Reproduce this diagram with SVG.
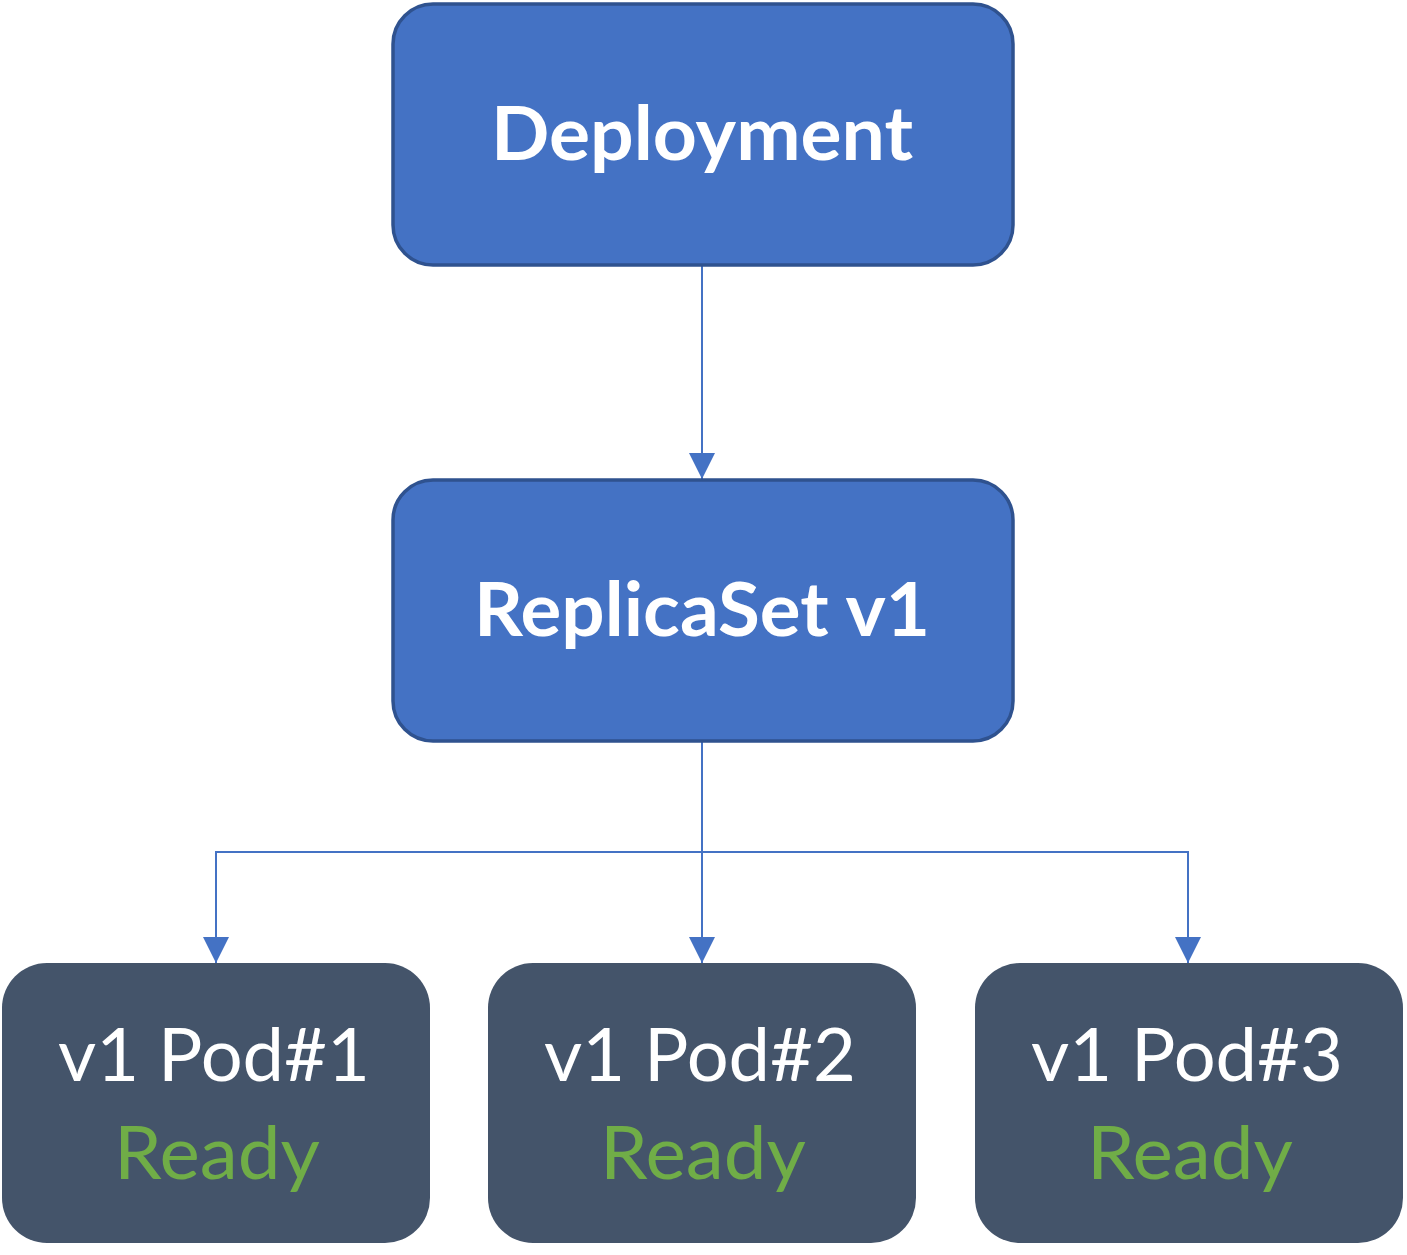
<svg xmlns="http://www.w3.org/2000/svg" width="1407" height="1255" viewBox="0 0 1407 1255">
<style>
.blue{fill:#4472C4;stroke:#2F528F;stroke-width:3.5}
.pod{fill:#44546A}
.t{font-family:Lato,"Open Sans","Liberation Sans",sans-serif;text-anchor:middle}
.tb{font-weight:bold;font-size:74px;fill:#fff}
.tw{font-size:73px;fill:#fff}
.tg{font-size:73px;fill:#70AD47}
.c{fill:none;stroke:#4472C4;stroke-width:2}
</style>
<defs>
<marker id="ah" viewBox="0 0 26 26" refX="26" refY="13" markerWidth="26" markerHeight="26" markerUnits="userSpaceOnUse" orient="auto">
<path d="M0,0 L26,13 L0,26 Z" fill="#4472C4"/>
</marker>
</defs>
<rect width="1407" height="1255" fill="#fff"/>
<g id="connectors">
<path class="c" d="M702,265 V479" marker-end="url(#ah)"/>
<path class="c" d="M702,741 V963" marker-end="url(#ah)"/>
<path class="c" d="M702,852 H216 V963" marker-end="url(#ah)"/>
<path class="c" d="M702,852 H1188 V963" marker-end="url(#ah)"/>
</g>
<g id="deployment">
<rect class="blue" x="393" y="4" width="620" height="261" rx="40"/>
<text class="t tb" x="702" y="160" textLength="422" lengthAdjust="spacingAndGlyphs">Deployment</text>
</g>
<g id="replicaset">
<rect class="blue" x="393" y="480" width="620" height="261" rx="40"/>
<text class="t tb" x="702" y="636" textLength="456" lengthAdjust="spacingAndGlyphs">ReplicaSet v1</text>
</g>
<g id="pod1">
<rect class="pod" x="2" y="963" width="428" height="280" rx="45"/>
<text class="t tw" x="214" y="1081" textLength="312" lengthAdjust="spacingAndGlyphs">v1 Pod#1</text>
<text class="t tg" x="217" y="1179" textLength="206" lengthAdjust="spacingAndGlyphs">Ready</text>
</g>
<g id="pod2">
<rect class="pod" x="488" y="963" width="428" height="280" rx="45"/>
<text class="t tw" x="700" y="1081" textLength="312" lengthAdjust="spacingAndGlyphs">v1 Pod#2</text>
<text class="t tg" x="703" y="1179" textLength="206" lengthAdjust="spacingAndGlyphs">Ready</text>
</g>
<g id="pod3">
<rect class="pod" x="975" y="963" width="428" height="280" rx="45"/>
<text class="t tw" x="1187" y="1081" textLength="312" lengthAdjust="spacingAndGlyphs">v1 Pod#3</text>
<text class="t tg" x="1190" y="1179" textLength="206" lengthAdjust="spacingAndGlyphs">Ready</text>
</g>
</svg>
